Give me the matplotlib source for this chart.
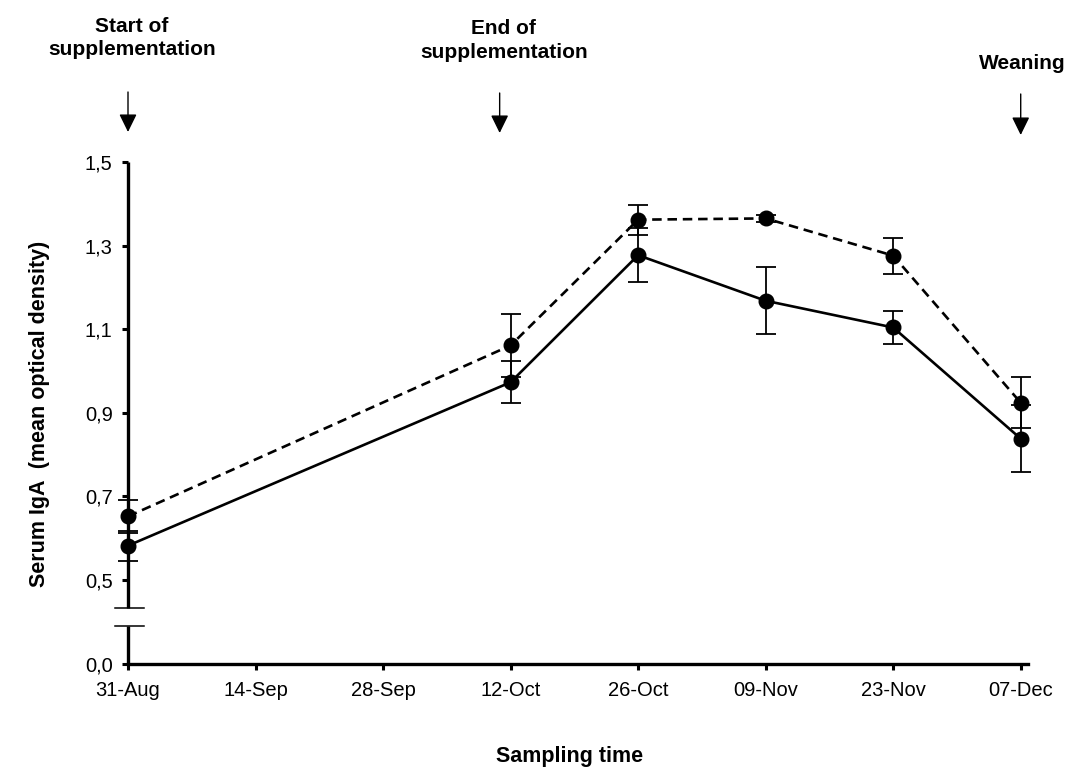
import matplotlib
matplotlib.use("Agg")
import matplotlib.pyplot as plt
from matplotlib import transforms

plt.rcParams['font.family'] = ['Liberation Sans', 'DejaVu Sans']

# Sampling days, counted from 31-Aug
sample_days = [0, 42, 56, 70, 84, 98]

# Serum IgA, mean optical density, with error bars
solid_mean = [0.582, 0.973, 1.277, 1.168, 1.104, 0.838]
solid_err = [0.036, 0.050, 0.065, 0.080, 0.040, 0.080]
dashed_mean = [0.652, 1.061, 1.362, 1.365, 1.276, 0.924]
dashed_err = [0.039, 0.075, 0.036, 0.008, 0.043, 0.061]

# Axis ticks
x_tick_days = [0, 14, 28, 42, 56, 70, 84, 98]
x_tick_labels = ["31-Aug", "14-Sep", "28-Sep", "12-Oct", "26-Oct", "09-Nov", "23-Nov", "07-Dec"]
y_tick_pos = [0.3, 0.5, 0.7, 0.9, 1.1, 1.3, 1.5]
y_tick_labels = ["0,0", "0,5", "0,7", "0,9", "1,1", "1,3", "1,5"]

# Events marked above the plot
event_days = [0, 40.8, 98]
event_labels = ["Start of\nsupplementation", "End of\nsupplementation", "Weaning"]

W, H = 1070, 769
fig = plt.figure(figsize=(W / 100, H / 100), dpi=100)
ax = fig.add_axes([128 / W, 1 - 663.5 / H, 900 / W, 501.5 / H])

common = dict(color='black', marker='o', markersize=10.5, elinewidth=1.3,
              capsize=7, capthick=1.3, clip_on=False, zorder=3)
ax.errorbar(sample_days, solid_mean, yerr=solid_err, linestyle='-', linewidth=1.9, **common)
ax.errorbar(sample_days, dashed_mean, yerr=dashed_err, linestyle=(0, (3.6, 2.2)),
            linewidth=1.9, **common)

ax.set_xlim(0, 98.8)
ax.set_ylim(0.3, 1.5)
ax.set_xticks(x_tick_days)
ax.set_xticklabels(x_tick_labels)
ax.set_yticks(y_tick_pos)
ax.set_yticklabels(y_tick_labels)
ax.tick_params(axis='both', direction='out', length=4, width=2.2, labelsize=14.5, color='black')
ax.tick_params(axis='x', pad=8.5)
ax.tick_params(axis='y', pad=7)

for side in ('top', 'right', 'left'):
    ax.spines[side].set_visible(False)
ax.spines['bottom'].set_linewidth(2.4)

# Left axis drawn in two pieces with a break between 0,0 and 0,5
ytrans = transforms.blended_transform_factory(ax.transAxes, ax.transData)
brk_lo, brk_hi = 0.390, 0.433
ax.plot([0, 0], [0.3, brk_lo], transform=ytrans, color='black', lw=2.4,
        solid_capstyle='butt', clip_on=False)
ax.plot([0, 0], [brk_hi, 1.5], transform=ytrans, color='black', lw=2.4,
        solid_capstyle='butt', clip_on=False)
for yb in (brk_lo, brk_hi):
    ax.plot([-0.0145, 0.018], [yb, yb], transform=ytrans, color='black', lw=1.1,
            clip_on=False)

# Event arrows and labels (baseline given for the last text line)
etrans = transforms.blended_transform_factory(ax.transData, fig.transFigure)
label_x_shift = [4, 4, 2]
label_baseline = [55, 58, 69]
arrow_top = [92, 93, 94]
arrow_tip = [132, 133, 135]
for d, lab, dx, yb, yt, ytip in zip(event_days, event_labels, label_x_shift,
                                     label_baseline, arrow_top, arrow_tip):
    ax.annotate('', xy=(d, 1 - ytip / H), xytext=(d, 1 - yt / H),
                xycoords=etrans, textcoords=etrans,
                arrowprops=dict(arrowstyle='-|>,head_length=1.1,head_width=0.54',
                                mutation_scale=10, lw=1.0, color='black',
                                shrinkA=0, shrinkB=0))
    xd = ax.transData.transform((d, 0))[0] + dx
    fig.text(xd / W, 1 - yb / H, lab, ha='center', va='baseline', fontsize=15,
             fontweight='bold', linespacing=1.3, multialignment='center')

fig.text(569.5 / W, 1 - 762 / H, "Sampling time", ha='center', va='baseline',
         fontsize=15.5, fontweight='bold')
fig.text(40 / W, 1 - 414 / H, "Serum IgA  (mean optical density)", ha='center',
         va='center', rotation=90, fontsize=15.5, fontweight='bold')

fig.savefig("out.png", dpi=100)
